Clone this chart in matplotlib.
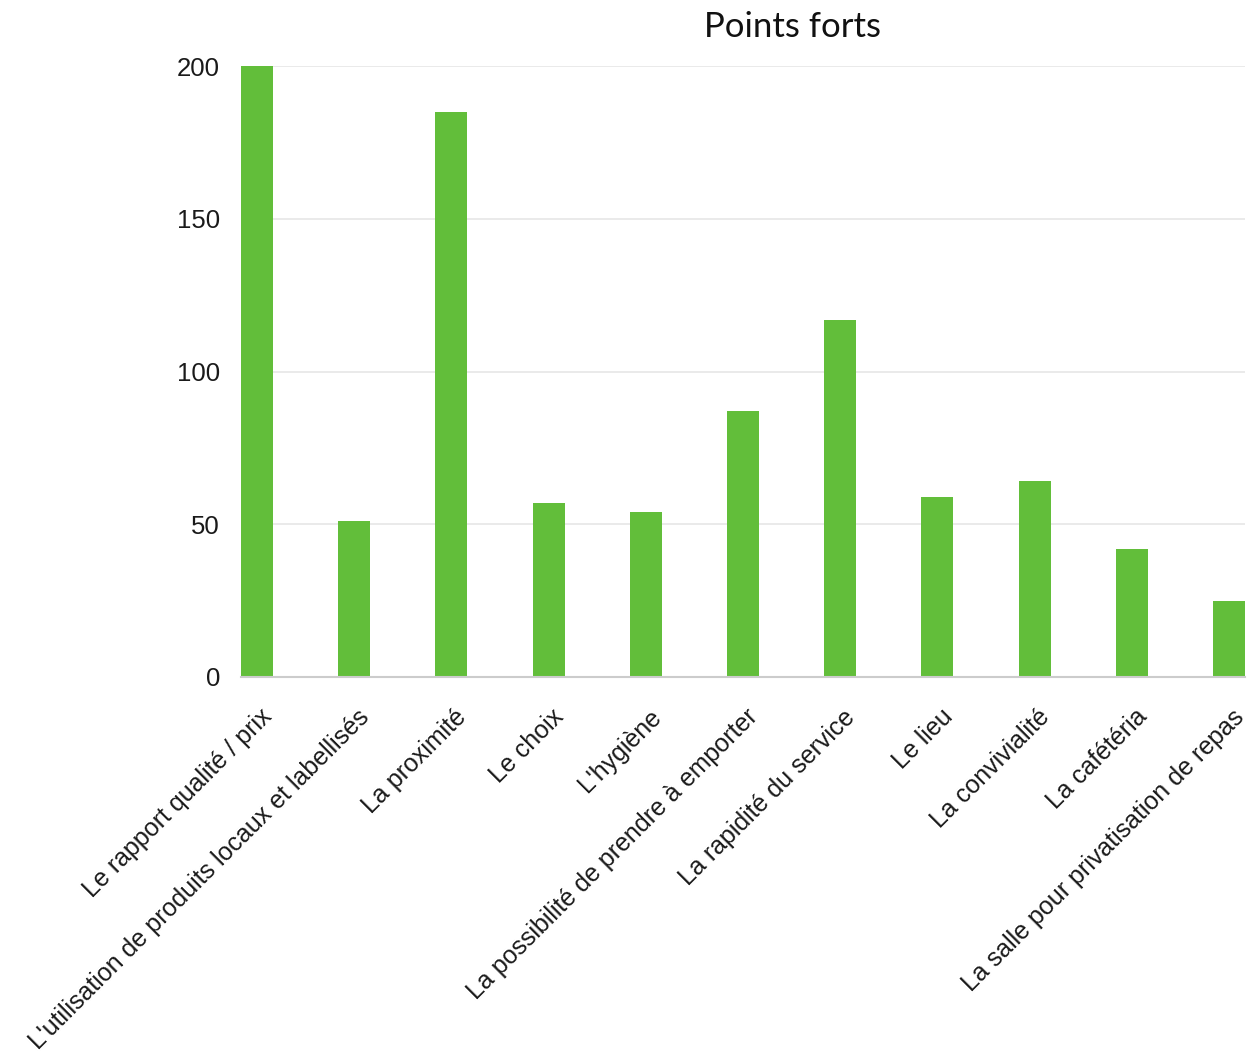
import matplotlib
matplotlib.use("Agg")
import matplotlib.pyplot as plt
import matplotlib.transforms as mtransforms

categories = [
    "Le rapport qualité / prix",
    "L'utilisation de produits locaux et labellisés",
    "La proximité",
    "Le choix",
    "L'hygiène",
    "La possibilité de prendre à emporter",
    "La rapidité du service",
    "Le lieu",
    "La convivialité",
    "La cafétéria",
    "La salle pour privatisation de repas",
]
values = [200, 51, 185, 57, 54, 87, 117, 59, 64, 42, 25]
yticks = [0, 50, 100, 150, 200]
title = "Points forts"

bar_color = "#62be3a"
grid_color = "#e6e6e6"

fig = plt.figure(figsize=(12.49, 10.59), dpi=100)
ax = fig.add_axes([241 / 1249, 1 - 677 / 1059, (1245 - 241) / 1249, (677 - 66) / 1059])

x = list(range(len(categories)))
width = 0.33
ax.bar(x, values, width=width, color=bar_color, zorder=3)

ax.set_xlim(-width / 2, len(categories) - 1 + width / 2)
ax.set_ylim(0, 200)
ax.set_yticks(yticks)
ax.set_yticklabels([str(v) for v in yticks], fontsize=18.5, family="Liberation Sans", color="#1a1a1a")
ax.yaxis.grid(True, color=grid_color, linewidth=1.2, zorder=0)
ax.tick_params(axis="y", length=0, pad=15)
ax.tick_params(axis="x", length=0, pad=20)

for s in ["top", "right", "left"]:
    ax.spines[s].set_visible(False)
ax.spines["bottom"].set_color("#cccccc")
ax.spines["bottom"].set_linewidth(1.5)
ax.spines["bottom"].set_zorder(4)

ax.set_xticks(x)
labels = ax.set_xticklabels(categories, rotation=45, ha="right", va="top",
                            rotation_mode="anchor", fontsize=18,
                            family="Liberation Sans", color="#1a1a1a")
offset = mtransforms.ScaledTranslation(3 / 100, 0, fig.dpi_scale_trans)
for lab in labels:
    lab.set_transform(lab.get_transform() + offset)

fig.text(793 / 1249, 1 - 27 / 1059, title, ha="center", va="center",
         fontsize=25, family="Lato", color="#111111")

fig.savefig("out.png", dpi=100, facecolor="white")
